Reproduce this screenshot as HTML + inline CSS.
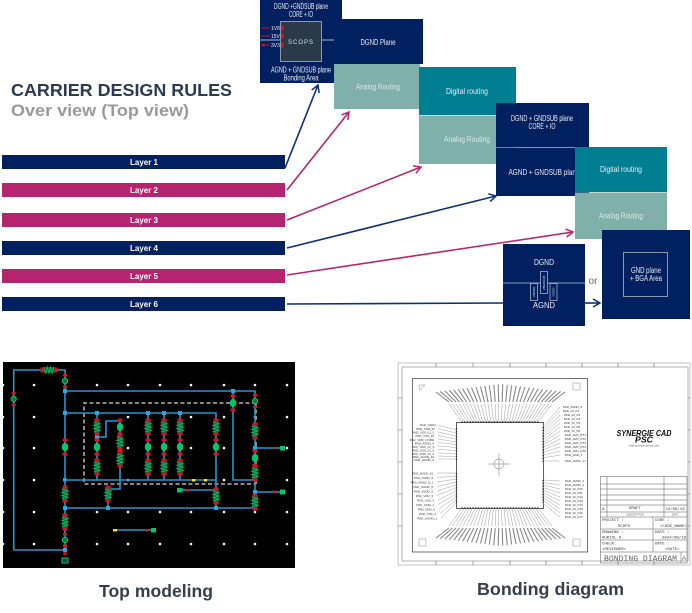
<!DOCTYPE html>
<html lang="en">
<head>
<meta charset="utf-8">
<title>Carrier design rules</title>
<style>
html,body{margin:0;padding:0;background:#fff;width:692px;height:613px;overflow:hidden}
svg{display:block;font-family:"Liberation Sans",sans-serif}
.w{fill:#e8eef5;font-size:8px;text-anchor:middle}
.g{fill:#dbe9e6;font-size:8px;text-anchor:middle}
.l{fill:#fff;font-size:8px;font-weight:bold;text-anchor:middle}
.t{font-size:3px;fill:#333}
.tb{font-family:"Liberation Mono",monospace;fill:#333;font-size:4px}
</style>
</head>
<body>
<svg width="692" height="613" viewBox="0 0 692 613" xmlns="http://www.w3.org/2000/svg">
<defs>
<filter id="soft" x="-2%" y="-2%" width="104%" height="104%"><feGaussianBlur stdDeviation="0.35"/></filter>
<marker id="an" markerWidth="10" markerHeight="10" refX="8" refY="5" orient="auto" markerUnits="userSpaceOnUse"><path d="M1 1L8 5L1 9" fill="none" stroke="#0b2f78" stroke-width="1.500"/></marker>
<marker id="am" markerWidth="10" markerHeight="10" refX="8" refY="5" orient="auto" markerUnits="userSpaceOnUse"><path d="M1 1L8 5L1 9" fill="none" stroke="#b8246f" stroke-width="1.500"/></marker>
<marker id="ar" markerWidth="4" markerHeight="4" refX="3.500" refY="2" orient="auto" markerUnits="userSpaceOnUse"><path d="M0 0L4 2L0 4z" fill="#d01020"/></marker>
<g id="res"><rect x="-2.5" y="-8.5" width="5" height="3" fill="#e0101a"/><rect x="-2.5" y="5.5" width="5" height="3" fill="#e0101a"/><rect x="-3" y="-5.5" width="6" height="11" fill="#07623a"/><path d="M-3-5L3-3.3L-3-1.6L3 0L-3 1.6L3 3.3L-3 5" fill="none" stroke="#12b060" stroke-width="1"/></g>
<g id="blob"><rect x="-2.5" y="-8.5" width="5" height="3" fill="#e0101a"/><rect x="-2.5" y="5.5" width="5" height="3" fill="#e0101a"/><ellipse rx="3.2" ry="4.2" fill="#06c46a"/></g>
<g id="ring"><rect x="-2" y="-7" width="4" height="2.5" fill="#e0101a"/><rect x="-2" y="4.5" width="4" height="2.5" fill="#e0101a"/><circle r="2.6" fill="#073" stroke="#0cc46a" stroke-width="1"/></g>
<g id="fan">
<path fill="none" stroke="#999" stroke-width=".5" d="M462 422L449 404M464.600 422L452.500 404M467.200 422L456.100 404M469.900 422L459.600 404M472.500 422L463.200 404M475.100 422L466.700 404M477.700 422L470.300 404M480.300 422L473.800 404M483 422L477.400 404M485.600 422L481 404M488.200 422L484.500 404M490.800 422L488 404M493.400 422L491.600 404M496.100 422L495.200 404M498.700 422L498.700 404M501.300 422L502.200 404M503.900 422L505.800 404M506.500 422L509.400 404M509.200 422L512.900 404M511.800 422L516.500 404M514.400 422L520 404M517 422L523.500 404M519.600 422L527.100 404M522.300 422L530.600 404M524.900 422L534.200 404M527.500 422L537.700 404M530.100 422L541.300 404M532.700 422L544.800 404M535.400 422L548.400 404M538 422L552 404"/>
<path fill="none" stroke="#888" stroke-width="1.100" d="M449 402L436 392M452.500 402L440.300 391.400M456.100 402L444.800 390.900M459.600 402L449.200 390.300M463.200 402L453.700 389.800M466.700 402L458.100 389.200M470.300 402L462.600 388.700M473.800 402L467 388.100M477.400 402L471.500 387.600M481 402L476 387M484.500 402L480.500 386.500M488 402L484.800 385.900M491.600 402L489.300 385.400M495.200 402L493.800 384.800M498.700 402L498.200 384.300M502.200 402L502.700 384.300M505.800 402L507.200 384.800M509.400 402L511.700 385.400M512.900 402L516.100 385.900M516.500 402L520.500 386.500M520 402L525 387M523.500 402L529.400 387.600M527.100 402L533.900 388.100M530.600 402L538.300 388.700M534.200 402L542.800 389.200M537.700 402L547.200 389.800M541.300 402L551.700 390.300M544.800 402L556.100 390.900M548.400 402L560.600 391.400M552 402L565 392"/>
<path fill="none" stroke="#333" stroke-width="1.400" stroke-dasharray="1.300 1.400" d="M461.500 422H539"/>
</g>
</defs>

<!-- Titles -->
<text x="11" y="96" font-size="17.5" font-weight="bold" fill="#2c3a52" textLength="221" lengthAdjust="spacingAndGlyphs">CARRIER DESIGN RULES</text>
<text x="11" y="116" font-size="17" font-weight="bold" fill="#9a9a9a" textLength="178" lengthAdjust="spacingAndGlyphs">Over view (Top view)</text>

<!-- Layer bars -->
<g>
<rect x="2" y="155" width="283" height="14" fill="#002060"/><text class="l" x="144" y="165">Layer 1</text>
<rect x="2" y="183" width="283" height="14" fill="#b5246f"/><text class="l" x="144" y="193">Layer 2</text>
<rect x="2" y="213" width="283" height="14" fill="#b5246f"/><text class="l" x="144" y="223">Layer 3</text>
<rect x="2" y="241" width="283" height="14" fill="#002060"/><text class="l" x="144" y="251">Layer 4</text>
<rect x="2" y="269" width="283" height="14" fill="#b5246f"/><text class="l" x="144" y="279">Layer 5</text>
<rect x="2" y="297" width="283" height="14" fill="#002060"/><text class="l" x="144" y="307">Layer 6</text>
</g>

<!-- Box 1 -->
<rect x="260" y="0" width="82" height="83" fill="#002060"/>
<text class="w" x="301" y="9" textLength="54" lengthAdjust="spacingAndGlyphs">DGND +GNDSUB plane</text>
<text class="w" x="301" y="17" textLength="24" lengthAdjust="spacingAndGlyphs">CORE + IO</text>
<path d="M260 40H280M322 40H334" stroke="#8a9ab0" stroke-width="1.200"/>
<rect x="280.500" y="21.500" width="41" height="40" fill="#2b3a48" stroke="#8b99a8"/>
<text x="301" y="44" font-size="6" fill="#d8e0e4" text-anchor="middle" letter-spacing="1">SCOPS</text>
<path d="M281 25a3 3 0 0 1 0 6zM281 33a3 3 0 0 1 0 6zM281 42a3 3 0 0 1 0 6z" fill="#e0101a"/>
<path d="M270 28H261M270 36H261M270 45H261" stroke="#d01020" stroke-width="1" marker-end="url(#ar)"/>
<text x="271" y="30" font-size="5" fill="#e8eef5">1V8</text>
<text x="271" y="38" font-size="5" fill="#e8eef5">15V</text>
<text x="271" y="47" font-size="5" fill="#e8eef5">3V3</text>
<text class="w" x="301" y="72.500" textLength="60" lengthAdjust="spacingAndGlyphs">AGND + GNDSUB plane</text>
<text class="w" x="301" y="80.500" textLength="35" lengthAdjust="spacingAndGlyphs">Bonding Area</text>

<!-- DGND plane / analog -->
<rect x="334" y="19" width="89" height="45" fill="#002060"/>
<text class="w" x="378" y="45" textLength="35" lengthAdjust="spacingAndGlyphs">DGND Plane</text>
<rect x="334" y="64" width="86" height="45" fill="#7fb0a9"/>
<text class="g" x="378" y="89.500" textLength="44" lengthAdjust="spacingAndGlyphs">Analog Routing</text>

<!-- Digital / Analog 1 -->
<rect x="419" y="67" width="97" height="48" fill="#007f93"/>
<text class="w" x="467" y="94" textLength="42" lengthAdjust="spacingAndGlyphs">Digital routing</text>
<rect x="419" y="115.500" width="97" height="48.500" fill="#7fb0a9"/>
<text class="g" x="467" y="142" textLength="46" lengthAdjust="spacingAndGlyphs">Analog Routing</text>

<!-- DGND+GNDSUB -->
<rect x="496" y="103" width="93" height="44" fill="#002060"/>
<text class="w" x="542" y="121" textLength="62" lengthAdjust="spacingAndGlyphs">DGND + GNDSUB plane</text>
<text class="w" x="542" y="129" textLength="27" lengthAdjust="spacingAndGlyphs">CORE + IO</text>
<rect x="496" y="147.500" width="93" height="48.500" fill="#002060"/>
<path d="M496 147.500H589" stroke="#8a9ab8" stroke-width=".6"/>
<text class="w" x="544" y="175" textLength="71" lengthAdjust="spacingAndGlyphs">AGND + GNDSUB plane</text>

<!-- Digital / Analog 2 -->
<rect x="575" y="147" width="92" height="45" fill="#007f93"/>
<text class="w" x="621" y="172" textLength="42" lengthAdjust="spacingAndGlyphs">Digital routing</text>
<rect x="575" y="192.500" width="92" height="46.500" fill="#7fb0a9"/>
<text class="g" x="621" y="218.500" textLength="44" lengthAdjust="spacingAndGlyphs">Analog Routing</text>

<!-- DGND/AGND box -->
<rect x="503" y="244" width="82" height="82" fill="#002060"/>
<path d="M503 283H585" stroke="#b8c4d8" stroke-width=".8"/>
<text x="544" y="265" font-size="8" fill="#e8eef5" text-anchor="middle" textLength="20" lengthAdjust="spacingAndGlyphs">DGND</text>
<text x="544" y="308" font-size="8" fill="#e8eef5" text-anchor="middle" textLength="22" lengthAdjust="spacingAndGlyphs">AGND</text>
<g fill="#002060" stroke="#b8c4d8" stroke-width=".7">
<rect x="530.500" y="283.500" width="7" height="17"/>
<rect x="540.500" y="271.500" width="7" height="22"/>
<rect x="550" y="283.500" width="7" height="17"/>
</g>
<g font-size="3" fill="#dde4ee" text-anchor="middle">
<text transform="translate(535 292) rotate(-90)">VBGND</text>
<text transform="translate(545 283) rotate(-90)">VBGNDUB</text>
<text transform="translate(554.500 292) rotate(-90)">CGND</text>
</g>
<text x="593" y="284" font-size="10" fill="#666" text-anchor="middle">or</text>

<!-- GND plane -->
<rect x="602" y="230" width="88" height="89" fill="#002060"/>
<rect x="623.500" y="252.500" width="44" height="44" fill="none" stroke="#aab6cc" stroke-width=".8"/>
<text class="w" x="646" y="273" textLength="30" lengthAdjust="spacingAndGlyphs">GND plane</text>
<text class="w" x="646" y="281" textLength="32" lengthAdjust="spacingAndGlyphs">+ BGA Area</text>

<!-- Arrows -->
<g fill="none" stroke-width="1.600">
<path d="M285 168L318 85" stroke="#0b2f78" marker-end="url(#an)"/>
<path d="M287 190L349 112" stroke="#b8246f" marker-end="url(#am)"/>
<path d="M287 220L421 167" stroke="#b8246f" marker-end="url(#am)"/>
<path d="M287 248L496 196" stroke="#0b2f78" marker-end="url(#an)"/>
<path d="M287 275L573 232" stroke="#b8246f" marker-end="url(#am)"/>
<path d="M287 304L503 303" stroke="#0b2f78"/>
<path d="M585 303H600" stroke="#0b2f78" marker-end="url(#an)"/>
</g>

<!-- Top modeling panel -->
<rect x="3" y="362" width="292" height="206" fill="#000"/>
<path stroke="#fff" stroke-width="2.600" stroke-linecap="round" fill="none" d="M3 385h0M34 385h0M97 385h0M128 385h0M160 385h0M191 385h0M224 385h0M255 385h0M287 385h0M3 417h0M34 417h0M128 417h0M191 417h0M224 417h0M255 417h0M287 417h0M3 448h0M34 448h0M128 448h0M191 448h0M224 448h0M287 448h0M3 480h0M34 480h0M128 480h0M224 480h0M287 480h0M3 512h0M34 512h0M97 512h0M128 512h0M160 512h0M191 512h0M224 512h0M255 512h0M287 512h0M3 544h0M34 544h0M97 544h0M128 544h0M160 544h0M191 544h0M224 544h0M255 544h0M287 544h0"/>
<path fill="none" stroke="#d8d8d8" stroke-width="1.300" stroke-dasharray="4 2.500" d="M256 403H84V484H256M256 403V484"/>
<path fill="none" stroke="#2a94cc" stroke-width="1.600" d="M13.700 550V370H65V550H13.700M65 391H255V508H65M65 413H216V508M65 480H216M233 391V480H255M97 413V480M120 421V465M148 413V480M164 413V480M180 413V480M97 437H106V421H120M120 465V489H108V508M255 448H283M255 492H283M180 490H216M115 530H154"/>
<g fill="#29a8e0">
<rect x="63" y="389" width="4" height="4"/><rect x="63" y="411" width="4" height="4"/><rect x="63" y="478" width="3.500" height="3.500"/><rect x="63" y="506" width="4" height="4"/><rect x="63" y="548" width="4" height="4"/>
<rect x="95" y="411" width="4" height="4"/><rect x="95" y="435" width="4" height="4"/><rect x="146" y="411" width="4" height="4"/><rect x="162" y="411" width="4" height="4"/><rect x="178" y="411" width="4" height="4"/>
<rect x="231" y="389" width="4" height="4"/><rect x="253" y="446" width="4" height="4"/><rect x="253" y="490" width="4" height="4"/><rect x="214" y="506" width="4" height="4"/><rect x="106" y="506" width="4" height="4"/>
</g>
<g>
<use href="#res" transform="translate(49 370) rotate(90)"/>
<use href="#ring" transform="translate(13.700 399)"/>
<use href="#ring" transform="translate(65 381)"/>
<use href="#blob" transform="translate(65 447)"/>
<use href="#res" transform="translate(65 494)"/>
<use href="#res" transform="translate(65 522)"/>
<use href="#ring" transform="translate(65 540)"/>
<use href="#res" transform="translate(97 427)"/>
<use href="#blob" transform="translate(97 447)"/>
<use href="#res" transform="translate(97 467)"/>
<use href="#blob" transform="translate(120 427)"/>
<use href="#res" transform="translate(120 442)"/>
<use href="#res" transform="translate(120 459)"/>
<use href="#res" transform="translate(148 427)"/>
<use href="#blob" transform="translate(148 447)"/>
<use href="#res" transform="translate(148 467)"/>
<use href="#res" transform="translate(164 427)"/>
<use href="#blob" transform="translate(164 447)"/>
<use href="#res" transform="translate(164 467)"/>
<use href="#res" transform="translate(180 427)"/>
<use href="#blob" transform="translate(180 447)"/>
<use href="#res" transform="translate(180 467)"/>
<use href="#res" transform="translate(216 427)"/>
<use href="#blob" transform="translate(216 447)"/>
<use href="#res" transform="translate(108 494)"/>
<use href="#res" transform="translate(216 496)"/>
<use href="#blob" transform="translate(233 403)"/>
<use href="#ring" transform="translate(255 401)"/>
<use href="#res" transform="translate(255 431)"/>
<use href="#blob" transform="translate(255 458)"/>
<use href="#res" transform="translate(255 473)"/>
<use href="#res" transform="translate(255 502)"/>
</g>
<rect x="62" y="558" width="6" height="5" fill="#044" stroke="#0cc46a"/>
<rect x="63.500" y="552" width="3" height="3" fill="#e0101a"/>
<g fill="#06c46a">
<rect x="280" y="446" width="5" height="4.500"/><rect x="280" y="489.500" width="5" height="5"/><rect x="177" y="488" width="5.500" height="4.500"/><rect x="151" y="528" width="5" height="4.500"/>
</g>
<g fill="#e0101a">
<rect x="273" y="447" width="2.500" height="2.500"/><rect x="273" y="490.500" width="2.500" height="2.500"/><rect x="186" y="489" width="3.500" height="2.500"/><rect x="145" y="529" width="3.500" height="2.500"/>
</g>
<g fill="#f5e614">
<rect x="113" y="529" width="4" height="2.500"/><rect x="192" y="479" width="3.500" height="2.500"/><rect x="204" y="479" width="3" height="2.500"/>
</g>
<text x="156" y="597" font-size="17.500" font-weight="bold" fill="#36404a" text-anchor="middle" textLength="114" lengthAdjust="spacingAndGlyphs">Top modeling</text>

<!-- Bonding diagram -->
<g filter="url(#soft)">
<g fill="none" stroke="#555" stroke-width=".5">
<rect x="398" y="363" width="292" height="202" stroke="#888"/>
<rect x="402" y="367" width="286" height="194" stroke="#666"/>
<path d="M436 363v4M473 363v4M510 363v4M546 363v4M582 363v4M618 363v4M654 363v4M436 561v4M473 561v4M510 561v4M546 561v4M582 561v4M618 561v4M654 561v4M398 398h4M398 430h4M398 462h4M398 494h4M398 526h4M688 398h2M688 430h2M688 462h2M688 494h2M688 526h2"/>
<rect x="412.500" y="378.500" width="175" height="173.500" stroke="#333" stroke-width=".7"/>
<rect x="456.500" y="422.500" width="87" height="86" stroke="#333" stroke-width=".8"/>
<rect x="573" y="383" width="7" height="7" stroke="#888"/>
<rect x="419" y="539" width="7" height="7" stroke="#888"/>
<rect x="573" y="539" width="7" height="7" stroke="#888"/>
<path d="M419 385h6l-5 5z" stroke="#888"/>
<circle cx="499" cy="464" r="5" stroke="#777"/>
<path d="M488 464H510M499 453V476" stroke="#777"/>
</g>
<use href="#fan"/>
<use href="#fan" transform="translate(0 930) scale(1 -1)"/>

<!-- Side fans -->
<path fill="none" stroke="#999" stroke-width=".45" d="M438 425L456 430M438 428.500L456 433M438 432L456 436M438 435.500L456 439M438 439L456 442M438 442.500L456 444.500M438 446L456 447.500M438 449.500L456 450.500M438 453L456 453.500M438 456L456 456.500M438 459L456 459M437 473L456 473M437 477.500L456 476M437 482L456 479M437 486.500L456 482M437 491L456 485M437 495.500L456 488M438 500L456 491M438 504.500L456 494M439 509L456 497M440 513.500L456 500M441 518L456 503M560 407L543 427M560 411L543 430M560 415L543 432.500M560 419L543 435M560 423L543 437.500M560 427L543 440M560 431L543 442.500M560 435L543 445M560 439L543 447.500M560 443L543 450M560 447L543 452.500M560 451L543 455M560 455L543 458M560 461L543 461M560 481L543 480M560 485L543 482.500M560 489L543 485M560 493L543 487.500M560 497L543 490M560 501L543 492.500M560 505L543 495M560 509L543 497.500M560 513L543 500M560 517L543 503"/>
<path fill="none" stroke="#333" stroke-width="1.300" stroke-dasharray="1.300 1.500" d="M456.500 428V460M456.500 473V503M543 427V462M543 480V503"/>
<g class="t">
<g text-anchor="end">
<text x="436" y="426">PAD_GND2</text>
<text x="435" y="430">PAD_VDD_IO</text>
<text x="434" y="433.500">PAD_VSS_IO_1</text>
<text x="434" y="437">PAD_VSS_IO</text>
<text x="434" y="441">PAD_VDD_CORE</text>
<text x="434" y="444.500">PAD_AVDD_4</text>
<text x="434" y="448">PAD_VDD_IO_3</text>
<text x="434" y="451.500">PAD_VSS_IO_2</text>
<text x="434" y="455">PAD_VDD_IO_4</text>
<text x="434" y="458">PAD_AGND_10</text>
<text x="434" y="461">PAD_AGND_9</text>
<text x="433" y="474.500">PAD_AVDD_10</text>
<text x="433" y="479">PAD_AVDD_9</text>
<text x="433" y="483.500">PAD_AVDD_8_1</text>
<text x="433" y="488">PAD_AGND_6</text>
<text x="433" y="492.500">PAD_AVDD_5</text>
<text x="433" y="497">PAD_VDD_3</text>
<text x="434" y="501.500">PAD_VSS_3</text>
<text x="434" y="506">PAD_GND_1</text>
<text x="435" y="510.500">PAD_VDD_5</text>
<text x="436" y="515">PAD_VSS_2</text>
<text x="437" y="519.500">PAD_AGND_1</text>
</g>
<text x="563" y="408">PAD_AVDD_5</text>
<text x="563" y="412">PAD_IO_P1</text>
<text x="564" y="416">PAD_IO_P2</text>
<text x="564" y="420">PAD_IO_P3</text>
<text x="564" y="424">PAD_IO_P4</text>
<text x="564" y="428">PAD_IO_P5</text>
<text x="564" y="432">PAD_IO_P6</text>
<text x="565" y="436">PAD_AVD_DT1</text>
<text x="565" y="440">PAD_AVD_DT2</text>
<text x="565" y="444">PAD_AVD_DT3</text>
<text x="565" y="448">PAD_AVD_DT4</text>
<text x="565" y="452">PAD_AVD_DT5</text>
<text x="565" y="456">PAD_VDD_1</text>
<text x="565" y="462">PAD_AVDD_17</text>
<text x="565" y="482">PAD_AVDD_2</text>
<text x="565" y="486">PAD_AVDD_3</text>
<text x="565" y="490">PAD_IO_P10</text>
<text x="565" y="494">PAD_IO_P11</text>
<text x="565" y="498">PAD_IO_P12</text>
<text x="565" y="502">PAD_IO_P13</text>
<text x="565" y="506">PAD_IO_P14</text>
<text x="565" y="510">PAD_IO_P15</text>
<text x="565" y="514">PAD_IO_P16</text>
<text x="565" y="518">PAD_IO_P17</text>
</g>

<!-- Logo -->
<text x="644" y="436" font-size="8.500" font-weight="bold" font-style="italic" fill="#111" text-anchor="middle" textLength="55" lengthAdjust="spacingAndGlyphs">SYNERGIE CAD</text>
<text x="644" y="442.500" font-size="8.500" font-weight="bold" font-style="italic" fill="#111" text-anchor="middle" textLength="18" lengthAdjust="spacingAndGlyphs">PSC</text>
<text x="644" y="446.500" font-size="2.500" fill="#555" text-anchor="middle">www.synergie-cad-psc.com</text>

<!-- Title block -->
<g fill="none" stroke="#555" stroke-width=".5">
<rect x="600.500" y="476.500" width="86.500" height="86.500"/>
<path d="M600.500 484H687M600.500 489H687M600.500 495H687M600.500 500H687M600.500 505H687M600.500 512H687M600.500 517H687M600.500 529H687M600.500 540H687M600.500 552H687M607 476.500V517M664 476.500V517M653 517V552M681 552V563"/>
</g>
<text class="tb" x="602" y="510">A</text>
<text class="tb" x="635" y="509" text-anchor="middle">DRAFT</text>
<text class="tb" x="675" y="510" text-anchor="middle">24/09/19</text>
<text x="635" y="515.500" font-size="2.500" fill="#555" text-anchor="middle">DESCRIPTION</text>
<text x="675" y="515.500" font-size="2.500" fill="#555" text-anchor="middle">DATE</text>
<text class="tb" x="602" y="521">PROJECT :</text>
<text class="tb" x="618" y="527">SCOPS</text>
<text class="tb" x="655" y="521">CODE :</text>
<text class="tb" x="660" y="527">&lt;CODE_NAME&gt;</text>
<text class="tb" x="602" y="533">DRAWING :</text>
<text class="tb" x="602" y="538.500">AURIOL A.</text>
<text class="tb" x="655" y="533">DATE :</text>
<text class="tb" x="662" y="538.500">2024/09/19</text>
<text class="tb" x="602" y="544.500">CHECK:</text>
<text class="tb" x="602" y="550">&lt;REVIEWER&gt;</text>
<text class="tb" x="655" y="544.500">DATE :</text>
<text class="tb" x="665" y="550">&lt;DATE&gt;</text>
<text x="604" y="561" font-family="Liberation Mono" font-size="8" fill="#666" textLength="73" lengthAdjust="spacingAndGlyphs">BONDING DIAGRAM</text>
<text x="684" y="560" font-size="6" fill="#666" text-anchor="middle">A</text>
</g>

<text x="550.500" y="595" font-size="17.500" font-weight="bold" fill="#36404a" text-anchor="middle" textLength="147" lengthAdjust="spacingAndGlyphs">Bonding diagram</text>
</svg>
</body>
</html>
